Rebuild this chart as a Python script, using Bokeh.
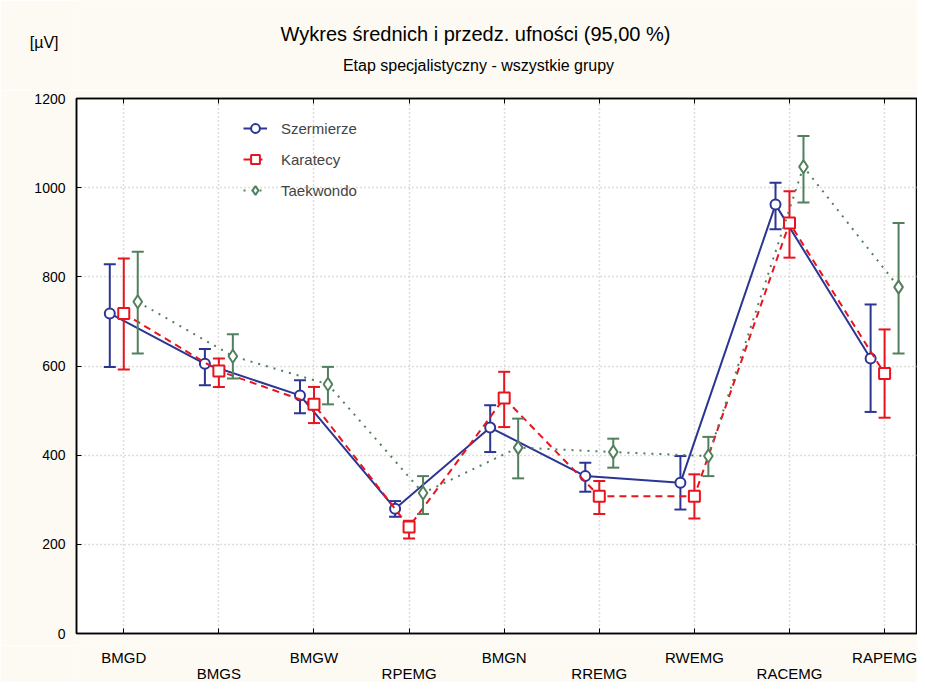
from bokeh.plotting import figure
from bokeh.layouts import column
from bokeh.models import (ColumnDataSource, Range1d, LinearAxis, FixedTicker, Label, LabelSet,
                          Legend, LegendItem)
from bokeh.core.properties import value
from bokeh.embed import file_html
from bokeh.resources import INLINE

categories = ["BMGD", "BMGS", "BMGW", "RPEMG", "BMGN", "RREMG", "RWEMG", "RACEMG", "RAPEMG"]

szer_mean = [718, 605, 534, 280, 462, 353, 338, 962, 617]
szer_low = [598, 557, 494, 262, 407, 318, 278, 907, 497]
szer_high = [828, 638, 568, 297, 512, 383, 398, 1011, 738]

kar_mean = [718, 589, 514, 239, 528, 308, 308, 921, 583]
kar_low = [592, 553, 472, 213, 463, 268, 258, 843, 484]
kar_high = [841, 617, 553, 253, 587, 342, 357, 992, 682]

tkd_mean = [744, 622, 559, 315, 417, 407, 398, 1047, 777]
tkd_low = [628, 572, 514, 268, 348, 372, 353, 967, 628]
tkd_high = [856, 671, 598, 353, 482, 437, 441, 1116, 921]

series_names = ["Szermierze", "Karatecy", "Taekwondo"]
y_ticks = [0, 200, 400, 600, 800, 1000, 1200]

FONT = "Liberation Sans"
BG = "#FDFAF3"
BLUE = "#2B3592"
RED = "#E8141F"
GREEN = "#52805C"

idx = list(range(len(categories)))
x_range = Range1d(-0.497, 8.346)

LEFT = 76
HEAD_H = 90
MAIN_BOTTOM = 12
MAIN_H = 633 - HEAD_H + MAIN_BOTTOM
FOOT_H = 682 - HEAD_H - MAIN_H

# ---------- header with titles ----------
head = figure(width=917, height=HEAD_H, output_backend="svg", toolbar_location=None,
              x_range=Range1d(0, 1), y_range=Range1d(0, 1),
              x_axis_location=None,
              min_border_left=LEFT, min_border_right=0, min_border_top=0, min_border_bottom=6,
              border_fill_color=BG, background_fill_color=BG)
head.outline_line_color = None
head.grid.visible = False
hy = head.yaxis[0]
hy.ticker = FixedTicker(ticks=[])
hy.axis_line_color = None
hy.major_tick_line_color = None
hy.minor_tick_line_color = None
hy.major_label_text_font_size = "1px"
hy.major_label_text_color = None
hy.major_tick_out = 0
hy.major_tick_in = 0
hy.axis_label = "[µV]"
hy.axis_label_orientation = "horizontal"
hy.axis_label_text_font = FONT
hy.axis_label_text_font_size = "16px"
hy.axis_label_text_font_style = "normal"
hy.axis_label_text_color = "black"
hy.axis_label_standoff = 18

HB = HEAD_H - 6  # header frame height
head.add_layout(Label(x=475 - LEFT, y=HB - 33, x_units="screen", y_units="screen",
                      text="Wykres średnich i przedz. ufności (95,00 %)",
                      text_font=FONT, text_font_size="20px", text_align="center",
                      text_baseline="middle", text_color="black"))
head.add_layout(Label(x=478 - LEFT, y=HB - 65, x_units="screen", y_units="screen",
                      text="Etap specjalistyczny - wszystkie grupy",
                      text_font=FONT, text_font_size="16px", text_align="center",
                      text_baseline="middle", text_color="black"))

# ---------- main chart ----------
p = figure(width=917, height=MAIN_H, output_backend="svg", toolbar_location=None,
           x_range=x_range, y_range=Range1d(0, 1200),
           min_border_left=LEFT, min_border_top=98 - HEAD_H, min_border_bottom=MAIN_BOTTOM,
           min_border_right=0,
           border_fill_color=BG, background_fill_color="white")
p.outline_line_color = "black"
p.outline_line_width = 1.5

xa = p.xaxis[0]
xa.ticker = FixedTicker(ticks=idx)
xa.major_tick_in = 5
xa.major_tick_out = 0
xa.minor_tick_line_color = None
xa.axis_line_color = "black"
xa.axis_line_width = 1.5
xa.major_label_text_color = None
xa.major_label_text_font_size = "1px"
xa.major_label_standoff = 0

xa3 = LinearAxis(ticker=FixedTicker(ticks=idx), major_label_text_color=None,
                 major_label_text_font_size="1px",
                 major_tick_in=5, major_tick_out=0, minor_tick_line_color=None,
                 axis_line_color="black", axis_line_width=1.5, major_label_standoff=0)
p.add_layout(xa3, "above")

ya = p.yaxis[0]
ya.ticker = FixedTicker(ticks=y_ticks)
ya.major_tick_in = 5
ya.major_tick_out = 0
ya.minor_tick_line_color = None
ya.axis_line_color = "black"
ya.axis_line_width = 1.5
ya.major_label_text_font = FONT
ya.major_label_text_font_size = "14px"
ya.major_label_text_color = "black"
ya.major_label_standoff = 11

p.xgrid.ticker = FixedTicker(ticks=idx)
p.ygrid.ticker = FixedTicker(ticks=y_ticks)
for g in (p.xgrid[0], p.ygrid[0]):
    g.grid_line_color = "#BDBDBD"
    g.grid_line_dash = "1 3"
    g.grid_line_width = 1.5

series = [
    ("Szermierze", szer_mean, szer_low, szer_high, -0.147, BLUE, "solid", "circle", 10),
    ("Karatecy", kar_mean, kar_low, kar_high, 0.0, RED, "7 5", "square", 11),
    ("Taekwondo", tkd_mean, tkd_low, tkd_high, 0.147, GREEN, "2 6", "diamond", 13),
]

items = []
for name, mean, lo, hi, off, color, dash, marker, msize in series:
    xs = [i + off for i in idx]
    src = ColumnDataSource(dict(x=xs, m=mean, lo=lo, hi=hi))
    ln = p.line("x", "m", source=src, line_color=color, line_width=2, line_dash=dash)
    p.segment("x", "lo", "x", "hi", source=src, line_color=color, line_width=2)
    p.scatter("x", "lo", source=src, marker="dash", size=12, line_color=color, line_width=2)
    p.scatter("x", "hi", source=src, marker="dash", size=12, line_color=color, line_width=2)
    mk = p.scatter("x", "m", source=src, marker=marker, size=msize, fill_color="white",
                   line_color=color, line_width=2)
    items.append(LegendItem(label=name, renderers=[ln, mk]))

legend = Legend(items=items, location=(167, 432), border_line_color=None,
                background_fill_alpha=0, glyph_width=24, glyph_height=22, spacing=9,
                label_text_font=FONT, label_text_font_size="15px", padding=0, margin=0,
                label_standoff=14, label_height=22)
p.add_layout(legend)

# ---------- footer with staggered category labels ----------
foot = figure(width=917, height=FOOT_H, output_backend="svg", toolbar_location=None,
              x_range=x_range, y_range=Range1d(0, 1),
              x_axis_location=None, y_axis_location=None,
              min_border_left=LEFT, min_border_right=0, min_border_top=0, min_border_bottom=0,
              border_fill_color=BG, background_fill_color=BG)
foot.outline_line_color = None
foot.grid.visible = False
row1 = ColumnDataSource(dict(x=[i for i in idx if i % 2 == 0],
                             t=[categories[i] for i in idx if i % 2 == 0]))
row2 = ColumnDataSource(dict(x=[i for i in idx if i % 2 == 1],
                             t=[categories[i] for i in idx if i % 2 == 1]))
for src, yy in ((row1, 682 - 657), (row2, 9)):
    foot.add_layout(LabelSet(x="x", y=yy, text="t", source=src, x_units="data",
                             y_units="screen", text_font=value(FONT),
                             text_font_size=value("15px"),
                             text_align="center", text_baseline="middle",
                             text_color="black"))

layout = column(head, p, foot, spacing=0)
open("out.html", "w").write(file_html(layout, INLINE))
